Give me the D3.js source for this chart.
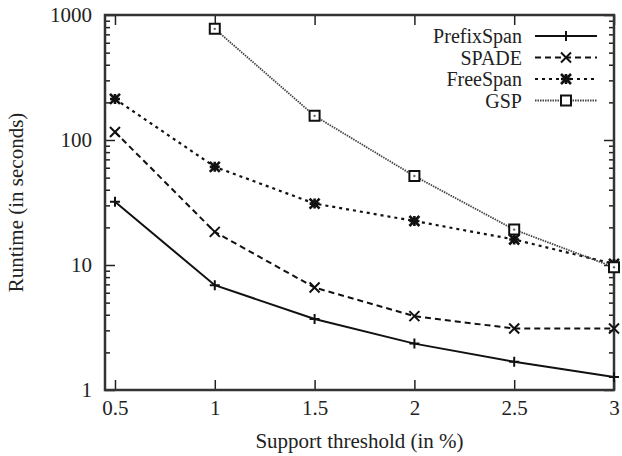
<!DOCTYPE html>
<html>
<head>
<meta charset="utf-8">
<script src="https://cdn.jsdelivr.net/npm/d3@7"></script>
<style>
  body { margin: 0; background: #fff; }
  text { font-family: "Liberation Serif", "DejaVu Serif", serif; fill: #222; }
</style>
</head>
<body>
<div id="chart"></div>
<script>
var thresholds = [0.5, 1, 1.5, 2, 2.5, 3];
var prefixSpan = [32, 6.9, 3.7, 2.35, 1.68, 1.27];
var spade = [116, 18.4, 6.6, 3.9, 3.1, 3.1];
var freeSpan = [213, 61, 31, 22.5, 16, 10.2];
var gsp = [null, 775, 156, 51.5, 19.2, 9.6];
var seriesNames = ["PrefixSpan", "SPADE", "FreeSpan", "GSP"];
var xTicks = [0.5, 1, 1.5, 2, 2.5, 3];
var yTicks = [1, 10, 100, 1000];

function renderChart() {
    var width = 622, height = 456;
    var left = 105, right = 614, top = 15, bottom = 390;

    var svg = d3.select("#chart").append("svg")
        .attr("width", width)
        .attr("height", height);

    var x = d3.scaleLinear().domain([0.45, 3]).range([left, right]);
    var y = d3.scaleLog().domain([1, 1000]).range([bottom, top]);

    // minor ticks for the log axis
    var minor = [];
    yTicks.slice(0, -1).forEach(function (d) {
        for (var k = 2; k <= 9; k++) minor.push(d * k);
    });

    function axisStyle(g) {
        g.select(".domain").remove();
        g.selectAll(".tick line").attr("stroke", "#222").attr("stroke-width", 1.5);
        g.selectAll(".tick text").style("font-size", "21px").attr("fill", "#222");
    }

    svg.append("g")
        .attr("transform", "translate(0," + bottom + ")")
        .call(d3.axisBottom(x).tickValues(xTicks).tickSize(-10).tickPadding(10)
            .tickFormat(function (d) { return d; }))
        .call(axisStyle);
    svg.append("g")
        .attr("transform", "translate(0," + top + ")")
        .call(d3.axisTop(x).tickValues(xTicks).tickSize(-10).tickFormat(""))
        .call(axisStyle);

    svg.append("g")
        .attr("transform", "translate(" + left + ",0)")
        .call(d3.axisLeft(y).tickValues(yTicks).tickSize(-10).tickPadding(13)
            .tickFormat(d3.format("d")))
        .call(axisStyle);
    svg.append("g")
        .attr("transform", "translate(" + left + ",0)")
        .call(d3.axisLeft(y).tickValues(minor).tickSize(-5).tickFormat(""))
        .call(axisStyle);
    svg.append("g")
        .attr("transform", "translate(" + right + ",0)")
        .call(d3.axisRight(y).tickValues(yTicks).tickSize(-10).tickFormat(""))
        .call(axisStyle);
    svg.append("g")
        .attr("transform", "translate(" + right + ",0)")
        .call(d3.axisRight(y).tickValues(minor).tickSize(-5).tickFormat(""))
        .call(axisStyle);

    svg.append("rect")
        .attr("x", left).attr("y", top)
        .attr("width", right - left).attr("height", bottom - top)
        .attr("fill", "none")
        .attr("stroke", "#333")
        .attr("stroke-width", 2.5);

    svg.append("text")
        .attr("x", (left + right) / 2)
        .attr("y", 448)
        .attr("text-anchor", "middle")
        .style("font-size", "21px")
        .text("Support threshold (in %)");

    svg.append("text")
        .attr("transform", "translate(23," + (top + bottom) / 2 + ")rotate(-90)")
        .attr("text-anchor", "middle")
        .style("font-size", "21px")
        .text("Runtime (in seconds)");

    function marker(type, cx, cy) {
        var s = 5;
        if (type == "plus")
            return "M" + (cx - s) + "," + cy + "H" + (cx + s) + "M" + cx + "," + (cy - s) + "V" + (cy + s);
        if (type == "cross")
            return "M" + (cx - s) + "," + (cy - s) + "L" + (cx + s) + "," + (cy + s) +
                "M" + (cx - s) + "," + (cy + s) + "L" + (cx + s) + "," + (cy - s);
        if (type == "star")
            return marker("plus", cx, cy) + marker("cross", cx, cy);
        return "M" + (cx - s) + "," + (cy - s) + "h" + 2 * s + "v" + 2 * s + "h" + (-2 * s) + "Z";
    }

    var series = [
        { name: seriesNames[0], values: prefixSpan, dash: null, width: 2, color: "#111", mark: "plus" },
        { name: seriesNames[1], values: spade, dash: "6,4", width: 2, color: "#111", mark: "cross" },
        { name: seriesNames[2], values: freeSpan, dash: "3,4", width: 2.2, color: "#111", mark: "star" },
        { name: seriesNames[3], values: gsp, dash: "1.5,1", width: 1.8, color: "#444", mark: "square" }
    ];

    var line = d3.line()
        .defined(function (d) { return d[1] != null; })
        .x(function (d) { return x(d[0]); })
        .y(function (d) { return y(d[1]); });

    series.forEach(function (s, i) {
        var pts = thresholds.map(function (t, j) { return [t, s.values[j]]; });
        svg.append("path")
            .datum(pts)
            .attr("fill", "none")
            .attr("stroke", s.color)
            .attr("stroke-width", s.width)
            .attr("stroke-dasharray", s.dash)
            .attr("d", line);

        var ok = pts.filter(function (d) { return d[1] != null; });
        svg.selectAll(".m" + i)
            .data(ok)
            .enter().append("path")
            .attr("class", "m" + i)
            .attr("fill", s.mark == "square" ? "#fff" : "none")
            .attr("stroke", "#111")
            .attr("stroke-width", s.mark == "star" ? 2.6 : 2)
            .attr("d", function (d) { return marker(s.mark, x(d[0]), y(d[1])); });
        if (s.mark == "square") {
            svg.selectAll(".d" + i)
                .data(ok)
                .enter().append("circle")
                .attr("cx", function (d) { return x(d[0]); })
                .attr("cy", function (d) { return y(d[1]); })
                .attr("r", 1.2)
                .attr("fill", "#666");
        }

        // legend
        var ly = 36 + i * 21.5;
        svg.append("text")
            .attr("x", 522).attr("y", ly)
            .attr("dy", "0.35em")
            .attr("text-anchor", "end")
            .style("font-size", "20px")
            .text(s.name);
        svg.append("line")
            .attr("x1", 535).attr("x2", 597)
            .attr("y1", ly).attr("y2", ly)
            .attr("stroke", s.color)
            .attr("stroke-width", s.width)
            .attr("stroke-dasharray", s.dash);
        svg.append("path")
            .attr("fill", s.mark == "square" ? "#fff" : "none")
            .attr("stroke", "#111")
            .attr("stroke-width", s.mark == "star" ? 2.6 : 2)
            .attr("d", marker(s.mark, 566, ly));
    });
}

renderChart();
</script>
</body>
</html>
